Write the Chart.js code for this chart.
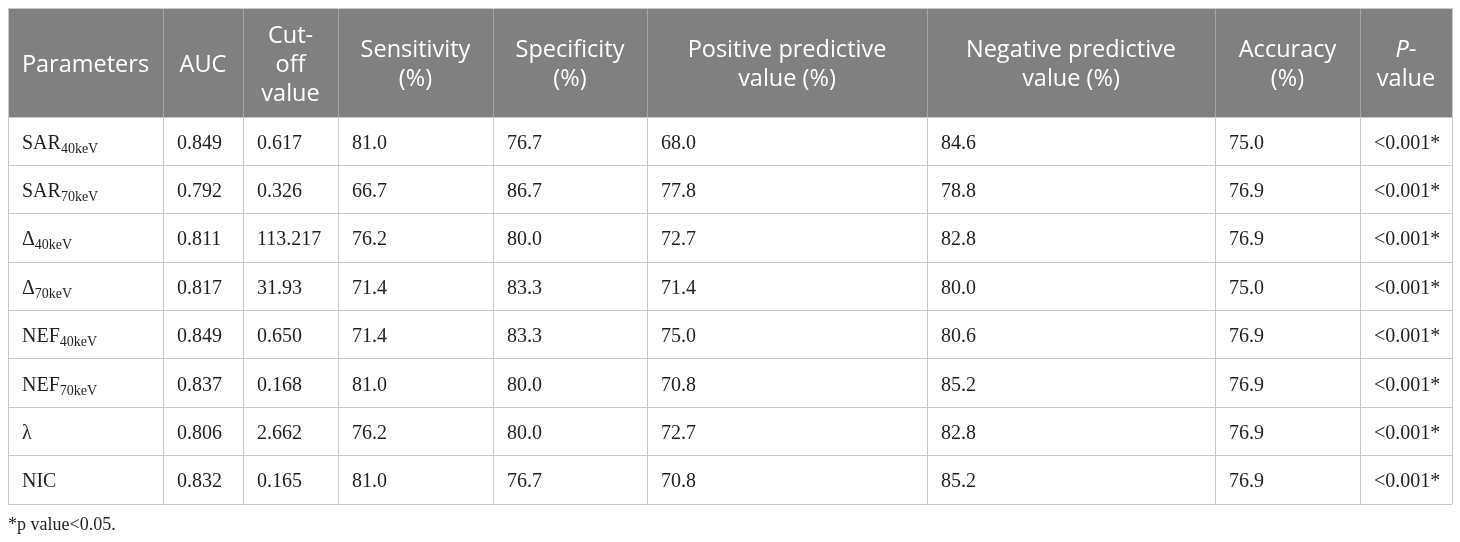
<!DOCTYPE html>
<html>
<head>
<meta charset="utf-8">
<script src="https://cdn.jsdelivr.net/npm/chart.js@4.4.0/dist/chart.umd.min.js"></script>
<style>
  html, body { margin: 0; padding: 0; background: #fff; }
  #caixa { width: 1460px; height: 542px; }
</style>
</head>
<body>
<div id="caixa"><canvas id="tabela"></canvas></div>
<script>
// Dados da tabela
const cabecalhos = ['Parameters', 'AUC', 'Cut-\noff\nvalue', 'Sensitivity\n(%)', 'Specificity\n(%)',
  'Positive predictive\nvalue (%)', 'Negative predictive\nvalue (%)', 'Accuracy\n(%)', 'P-\nvalue'];
const parametros = ['SAR', 'SAR', 'Δ', 'Δ', 'NEF', 'NEF', 'λ', 'NIC'];
const subscritos = ['40keV', '70keV', '40keV', '70keV', '40keV', '70keV', '', ''];
const auc = ['0.849', '0.792', '0.811', '0.817', '0.849', '0.837', '0.806', '0.832'];
const corte = ['0.617', '0.326', '113.217', '31.93', '0.650', '0.168', '2.662', '0.165'];
const sensibilidade = ['81.0', '66.7', '76.2', '71.4', '71.4', '81.0', '76.2', '81.0'];
const especificidade = ['76.7', '86.7', '80.0', '83.3', '83.3', '80.0', '80.0', '76.7'];
const vpp = ['68.0', '77.8', '72.7', '71.4', '75.0', '70.8', '72.7', '70.8'];
const vpn = ['84.6', '78.8', '82.8', '80.0', '80.6', '85.2', '82.8', '85.2'];
const acuracia = ['75.0', '76.9', '76.9', '75.0', '76.9', '76.9', '76.9', '76.9'];
const valorP = ['<0.001*', '<0.001*', '<0.001*', '<0.001*', '<0.001*', '<0.001*', '<0.001*', '<0.001*'];
const nota = '*p value<0.05.';

// Layout (larguras das colunas e alturas das linhas)
const larguras = [155, 80, 95, 155, 154, 280, 288, 145, 92];
const alturaCabecalho = 109;
const alturaLinha = 48.375;

const bordasX = [0];
larguras.forEach(l => bordasX.push(bordasX[bordasX.length - 1] + l));
const bordasY = [0, alturaCabecalho];
parametros.forEach(() => bordasY.push(bordasY[bordasY.length - 1] + alturaLinha));

const colunas = [parametros, auc, corte, sensibilidade, especificidade, vpp, vpn, acuracia, valorP];

const celulasCabecalho = cabecalhos.map((t, c) => ({
  x: (bordasX[c] + bordasX[c + 1]) / 2, y: alturaCabecalho / 2, texto: t
}));

const celulas = [];
parametros.forEach((p, r) => {
  colunas.forEach((col, c) => {
    celulas.push({
      x: bordasX[c], y: (bordasY[r + 1] + bordasY[r + 2]) / 2,
      texto: col[r], sub: c === 0 ? subscritos[r] : ''
    });
  });
});

const corpoFonte = '20px "Liberation Serif", serif';
const subFonte = '14px "Liberation Serif", serif';
const cabFonte = '23.5px "Open Sans", sans-serif';

const pluginTabela = {
  id: 'tabela',
  beforeDraw(chart) {
    const { ctx, scales: { x, y } } = chart;
    ctx.save();
    ctx.fillStyle = '#808080';
    ctx.fillRect(x.getPixelForValue(0), y.getPixelForValue(0),
      x.getPixelForValue(bordasX[bordasX.length - 1]) - x.getPixelForValue(0),
      y.getPixelForValue(alturaCabecalho) - y.getPixelForValue(0));
    ctx.restore();
  },
  beforeDatasetsDraw(chart) {
    const { ctx, scales: { x, y } } = chart;
    ctx.save();
    ctx.strokeStyle = '#a4a4a4';
    ctx.lineWidth = 1;
    for (let i = 1; i < bordasX.length - 1; i++) {
      const px = Math.round(x.getPixelForValue(bordasX[i])) + 0.5;
      ctx.beginPath();
      ctx.moveTo(px, y.getPixelForValue(0) + 1);
      ctx.lineTo(px, y.getPixelForValue(alturaCabecalho) - 0.5);
      ctx.stroke();
    }
    ctx.restore();
  },
  afterDatasetsDraw(chart) {
    const { ctx } = chart;
    ctx.save();

    // cabeçalho
    const metaCab = chart.getDatasetMeta(0);
    ctx.fillStyle = '#ffffff';
    ctx.textAlign = 'center';
    ctx.textBaseline = 'alphabetic';
    metaCab.data.forEach((el, i) => {
      const linhas = celulasCabecalho[i].texto.split('\n');
      const altura = 29;
      const inicio = el.y + 9 - (linhas.length - 1) * altura / 2;
      linhas.forEach((linha, k) => {
        const ly = inicio + k * altura;
        if (linha === 'P-') {
          ctx.font = 'italic ' + cabFonte;
          const wP = ctx.measureText('P').width;
          ctx.font = cabFonte;
          const wH = ctx.measureText('-').width;
          const x0 = el.x - (wP + wH) / 2;
          ctx.textAlign = 'left';
          ctx.font = 'italic ' + cabFonte;
          ctx.fillText('P', x0, ly);
          ctx.font = cabFonte;
          ctx.fillText('-', x0 + wP, ly);
          ctx.textAlign = 'center';
        } else {
          ctx.font = cabFonte;
          ctx.fillText(linha, el.x, ly);
        }
      });
    });

    // corpo
    const meta = chart.getDatasetMeta(1);
    ctx.fillStyle = '#231f20';
    ctx.textAlign = 'left';
    ctx.textBaseline = 'alphabetic';
    meta.data.forEach((el, i) => {
      const c = celulas[i];
      const px = el.x + 14;
      const base = el.y + 7.5;
      ctx.font = corpoFonte;
      ctx.fillText(c.texto, px, base);
      if (c.sub) {
        const w = ctx.measureText(c.texto).width;
        ctx.font = subFonte;
        ctx.fillText(c.sub, px + w, base + 4);
      }
    });

    ctx.restore();
  },
  afterDraw(chart) {
    const { ctx, chartArea } = chart;
    ctx.save();
    ctx.fillStyle = '#231f20';
    ctx.font = '18px "Liberation Serif", serif';
    ctx.textAlign = 'left';
    ctx.textBaseline = 'alphabetic';
    ctx.fillText(nota, chartArea.left, chartArea.bottom + 26);
    ctx.restore();
  }
};

const tabela = new Chart(document.getElementById('tabela'), {
  type: 'scatter',
  data: {
    datasets: [
      { label: 'cabecalho', data: celulasCabecalho, pointRadius: 0, pointHoverRadius: 0 },
      { label: 'celulas', data: celulas, pointRadius: 0, pointHoverRadius: 0 }
    ]
  },
  options: {
    responsive: true,
    maintainAspectRatio: false,
    animation: false,
    events: [],
    layout: { padding: { left: 8, right: 8, top: 8, bottom: 38 } },
    plugins: { legend: { display: false }, tooltip: { enabled: false } },
    scales: {
      x: {
        type: 'linear', min: 0, max: bordasX[bordasX.length - 1],
        afterBuildTicks: s => { s.ticks = bordasX.map(v => ({ value: v })); },
        ticks: { display: false },
        grid: { color: '#c8c8c8', lineWidth: 1, drawTicks: false },
        border: { display: false }
      },
      y: {
        type: 'linear', min: 0, max: bordasY[bordasY.length - 1], reverse: true,
        afterBuildTicks: s => { s.ticks = bordasY.map(v => ({ value: v })); },
        ticks: { display: false },
        grid: { color: '#c8c8c8', lineWidth: 1, drawTicks: false },
        border: { display: false }
      }
    }
  },
  plugins: [pluginTabela]
});
</script>
</body>
</html>
